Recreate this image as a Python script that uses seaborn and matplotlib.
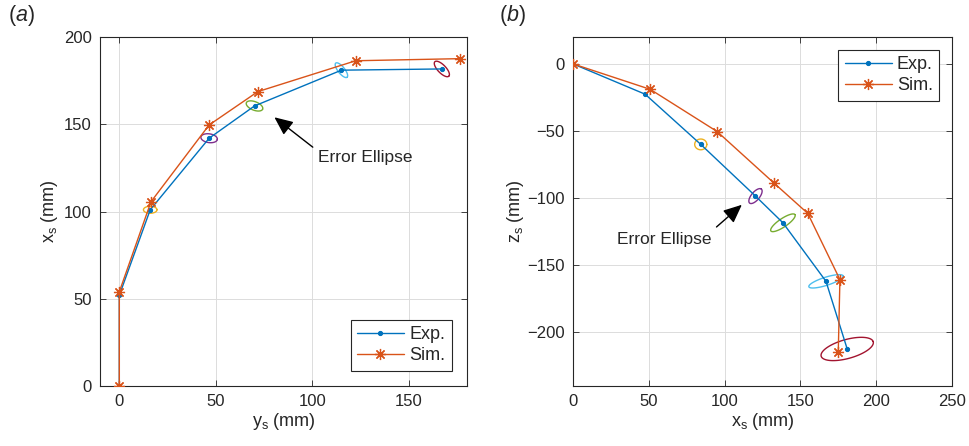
import numpy as np
import pandas as pd
import matplotlib
matplotlib.use('Agg')
import matplotlib.pyplot as plt
import seaborn as sns

# Panel (a): y_s vs x_s
a_exp_y = [0, 0, 16, 46.5, 70, 115, 167]
a_exp_x = [0, 52, 101, 142, 160.5, 181, 181.7]
a_sim_y = [0, 0, 16.4, 46.5, 71.7, 122.4, 176.3]
a_sim_x = [0, 54, 105.6, 149.6, 168.7, 186.4, 187.6]

# Panel (b): x_s vs z_s
b_exp_x = [0, 47.6, 84.3, 120.4, 138.5, 166.9, 180.9]
b_exp_z = [0, -22.6, -60, -98.5, -118.4, -162, -212.4]
b_sim_x = [0, 51, 95.2, 132.8, 154.9, 176.1, 175]
b_sim_z = [0, -19, -50.5, -89, -111.4, -160.7, -215]

# error ellipses on Exp. points 3..7: semi-axes (mm) and tilt (deg)
a_ell_a = [3.5, 4.3, 4.6, 5.0, 5.5]
a_ell_b = [2.0, 2.5, 2.4, 1.8, 2.2]
a_ell_ang = [0, -10, -25, -55, -50]
b_ell_a = [4.0, 6.5, 10, 12, 18]
b_ell_b = [4.0, 2.8, 3, 3, 7]
b_ell_ang = [0, 55, 38, 20, 18]

blue = '#0072BD'
orange = '#D95319'
ell_colors = ['#EDB120', '#7E2F8E', '#77AC30', '#4DBEEE', '#A2142F']
ink = '#262626'

sns.set_theme(style='whitegrid')
plt.rcParams['font.family'] = ['Liberation Sans', 'DejaVu Sans']
plt.rcParams['mathtext.fontset'] = 'custom'
plt.rcParams['mathtext.rm'] = 'Liberation Sans'
plt.rcParams['mathtext.it'] = 'Liberation Sans:italic'

fig = plt.figure(figsize=(9.69, 4.46), dpi=100)
ax1 = fig.add_axes([0.1032, 0.1345, 0.3787, 0.7825])
ax2 = fig.add_axes([0.5913, 0.1345, 0.3911, 0.7825])


def draw_ellipses(ax, cx, cy, aa, bb, angs):
    t = np.linspace(0, 2 * np.pi, 100)
    for x0, y0, a, b, ang, c in zip(cx, cy, aa, bb, angs, ell_colors):
        th = np.deg2rad(ang)
        ex = x0 + a * np.cos(th) * np.cos(t) - b * np.sin(th) * np.sin(t)
        ey = y0 + a * np.sin(th) * np.cos(t) + b * np.cos(th) * np.sin(t)
        ax.plot(ex, ey, color=c, lw=1.0, zorder=2)


def panel(ax, ex, ey, sx, sy, ell, loc, pad):
    sns.lineplot(x=ex, y=ey, sort=False, estimator=None, ax=ax, color=blue,
                 marker='.', markersize=6, markeredgecolor=blue, lw=1.0,
                 label='Exp.', zorder=3)
    sns.lineplot(x=sx, y=sy, sort=False, estimator=None, ax=ax, color=orange,
                 marker=(8, 2, 0), markersize=8, markeredgecolor=orange,
                 markeredgewidth=0.9, lw=1.0, label='Sim.', zorder=3)
    draw_ellipses(ax, ex[2:], ey[2:], *ell)
    leg = ax.legend(loc=loc, fontsize=13, fancybox=False, framealpha=1,
                    handlelength=2.6, borderpad=0.35, labelspacing=0.25,
                    handletextpad=0.3, borderaxespad=pad)
    leg.get_frame().set_edgecolor(ink)
    leg.get_frame().set_linewidth(0.8)
    ax.set_facecolor('white')
    ax.grid(True, color='#dcdcdc', lw=0.7)
    for s in ax.spines.values():
        s.set_color(ink)
        s.set_linewidth(0.8)
    ax.tick_params(direction='in', length=4, width=0.6, color=ink,
                   labelsize=12, top=True, right=True, bottom=True, left=True,
                   labelcolor=ink, pad=6)


panel(ax1, a_exp_y, a_exp_x, a_sim_y, a_sim_x,
      (a_ell_a, a_ell_b, a_ell_ang), 'lower right', 0.85)
ax1.set_xlim(-10, 180)
ax1.set_ylim(0, 200)
ax1.set_xticks([0, 50, 100, 150])
ax1.set_yticks([0, 50, 100, 150, 200])
ax1.set_xlabel(r'y$_\mathrm{s}$ (mm)', fontsize=13, color=ink, labelpad=1)
ax1.set_ylabel(r'x$_\mathrm{s}$ (mm)', fontsize=13, color=ink, labelpad=3)
ax1.annotate('Error Ellipse', xy=(80.3, 154), xytext=(103, 131),
             fontsize=12.5, va='center', ha='left', color=ink,
             arrowprops=dict(arrowstyle='-|>,head_length=0.9,head_width=0.4',
                             color='black', lw=1.0, shrinkA=2, shrinkB=0,
                             relpos=(0, 0.9)))

panel(ax2, b_exp_x, b_exp_z, b_sim_x, b_sim_z,
      (b_ell_a, b_ell_b, b_ell_ang), 'upper right', 0.7)
ax2.set_xlim(0, 250)
ax2.set_ylim(-240, 20)
ax2.set_xticks([0, 50, 100, 150, 200, 250])
ax2.set_yticks([-200, -150, -100, -50, 0])
ax2.set_xlabel(r'x$_\mathrm{s}$ (mm)', fontsize=13, color=ink, labelpad=1)
ax2.set_ylabel(r'z$_\mathrm{s}$ (mm)', fontsize=13, color=ink, labelpad=1)
ax2.annotate('Error Ellipse', xy=(111.4, -105), xytext=(28.8, -130.6),
             fontsize=12.5, va='center', ha='left', color=ink,
             arrowprops=dict(arrowstyle='-|>,head_length=0.9,head_width=0.4',
                             color='black', lw=1.0, shrinkA=2, shrinkB=0,
                             relpos=(1, 1)))

fig.text(0.008, 0.965, r'($\it{a}$)', fontsize=15.5, va='center', ha='left')
fig.text(0.515, 0.965, r'($\it{b}$)', fontsize=15.5, va='center', ha='left')

fig.savefig('out.png', dpi=100)
